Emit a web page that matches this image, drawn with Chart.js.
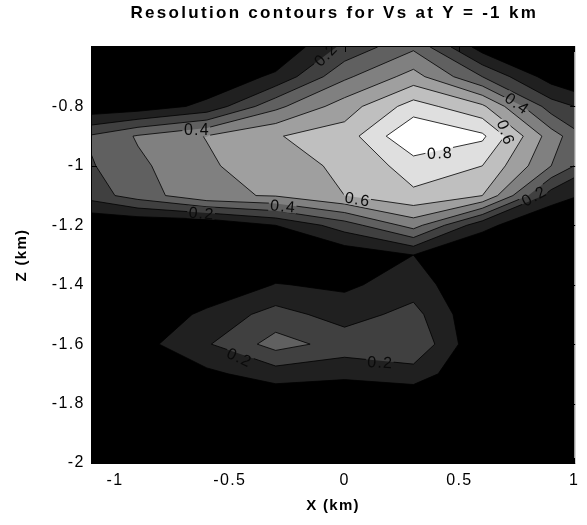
<!DOCTYPE html>
<html>
<head>
<meta charset="utf-8">
<script src="https://cdn.jsdelivr.net/npm/chart.js@4.4.1/dist/chart.umd.min.js"></script>
<style>
  html, body { margin: 0; padding: 0; background: #fff; }
  #wrap { width: 587px; height: 525px; }
</style>
</head>
<body>
<div id="wrap"><canvas id="myChart" width="587" height="525"></canvas></div>
<script>
// grid of the resolution model: columns in X (km), rows in Z (km)
const xNodes = [-1.2, -0.9, -0.6, -0.3, 0, 0.3, 0.6, 0.9, 1.2];
const zNodes = [-0.6, -0.7, -0.8, -0.9, -1.0, -1.1, -1.2, -1.3, -1.4, -1.5, -1.6, -1.7, -1.8, -1.9, -2.0];

// resolution values, one row per zNodes entry
const resolution = [
	[0,     0,     0,      0.004, 0.226, 0.38,  0.05, 0,    0],
	[0,     0,     0.02,   0.12,  0.38,  0.54,  0.3,  0.05, 0],
	[0.02,  0.04,  0.126,  0.373, 0.55,  0.745, 0.62, 0.25, 0.1],
	[0.27,  0.41,  0.505,  0.594, 0.647, 0.9,   0.82, 0.45, 0.15],
	[0.249, 0.38,  0.48,   0.58,  0.609, 0.75,  0.7,  0.4,  0.1],
	[0.21,  0.345, 0.4825, 0.507, 0.6,   0.68,  0.6,  0.15, 0.03],
	[0,     0,     0,      0.1,   0.25,  0.44,  0.13, 0,    0],
	[0,     0,     0,      0,     0.03,  0.1,   0,    0,    0],
	[0,     0,     0,      0.105, 0.081, 0.15,  0,    0,    0],
	[0,     0,     0.127,  0.24,  0.155, 0.235, 0,    0,    0],
	[0,     0.06,  0.19,   0.34,  0.26,  0.29,  0,    0,    0],
	[0,     0,     0.0775, 0.15,  0.124, 0.156, 0,    0,    0],
	[0,     0,     0,      0,     0,     0,     0,    0,    0],
	[0,     0,     0,      0,     0,     0,     0,    0,    0],
	[0,     0,     0,      0,     0,     0,     0,    0,    0]
];

const levels = [0.1, 0.2, 0.3, 0.4, 0.5, 0.6, 0.7, 0.8];
const xTicks = [-1, -0.5, 0, 0.5, 1];
const zTicks = [-2, -1.8, -1.6, -1.4, -1.2, -1, -0.8];

// inline contour labels
const labelText = ['0.4', '0.2', '0.4', '0.6', '0.8', '0.6', '0.4', '0.2', '0.2', '0.2', '0.2'];
const labelX = [-0.646, -0.084, 0.75, 0.702, 0.413, 0.054, -0.27, -0.625, 0.823, -0.46, 0.153];
const labelZ = [-0.879, -0.627, -0.789, -0.886, -0.957, -1.112, -1.135, -1.159, -1.102, -1.644, -1.661];
const labelAngle = [0, -45, 35, 70, -3, 10, 5, 5, -30, 25, 3];

const titleText = 'Resolution contours for Vs at Y = -1 km';
const shades = ['#000000', '#202020', '#404040', '#606060', '#808080', '#9f9f9f', '#bfbfbf', '#dfdfdf', '#ffffff'];
const FONT = "'Liberation Sans', Arial, sans-serif";

// per cell polygon of the part >= level (corners walked clockwise)
function cellPolygons(level) {
	const polys = [];
	for (let i = 0; i < zNodes.length - 1; i++) {
		for (let j = 0; j < xNodes.length - 1; j++) {
			const c = [
				[xNodes[j], zNodes[i], resolution[i][j]],
				[xNodes[j + 1], zNodes[i], resolution[i][j + 1]],
				[xNodes[j + 1], zNodes[i + 1], resolution[i + 1][j + 1]],
				[xNodes[j], zNodes[i + 1], resolution[i + 1][j]]
			];
			const pts = [];
			for (let k = 0; k < 4; k++) {
				const a = c[k], b = c[(k + 1) % 4];
				const ina = a[2] >= level, inb = b[2] >= level;
				if (ina) pts.push({x: a[0], z: a[1], kind: 'corner'});
				if (ina !== inb) {
					const t = (level - a[2]) / (b[2] - a[2]);
					pts.push({x: a[0] + t * (b[0] - a[0]), z: a[1] + t * (b[1] - a[1]), kind: ina ? 'out' : 'in'});
				}
			}
			if (pts.length >= 3) polys.push(pts);
		}
	}
	return polys;
}

const contourPlugin = {
	id: 'contourf',
	beforeDraw(chart) {
		chart.ctx.letterSpacing = '1.3px';
	},
	beforeDatasetsDraw(chart) {
		const {ctx, chartArea: a, scales: {x, y}} = chart;
		const px = v => x.getPixelForValue(v);
		const py = v => y.getPixelForValue(v);

		ctx.save();
		ctx.beginPath();
		ctx.rect(a.left, a.top, a.right - a.left, a.bottom - a.top);
		ctx.clip();
		ctx.fillStyle = shades[0];
		ctx.fillRect(a.left, a.top, a.right - a.left, a.bottom - a.top);

		const allPolys = levels.map(cellPolygons);
		allPolys.forEach((polys, k) => {
			ctx.beginPath();
			polys.forEach(p => {
				p.forEach((pt, i) => i ? ctx.lineTo(px(pt.x), py(pt.z)) : ctx.moveTo(px(pt.x), py(pt.z)));
				ctx.closePath();
			});
			ctx.fillStyle = shades[k + 1];
			ctx.fill();
		});

		// labels: measure boxes, keep contour lines out of them
		const labelFont = '16px ' + FONT;
		ctx.font = labelFont;
		ctx.letterSpacing = '1.2px';
		const boxes = labelText.map((t, i) => ({
			cx: px(labelX[i]), cy: py(labelZ[i]),
			w: ctx.measureText(t).width + 2, h: 13,
			ang: labelAngle[i] * Math.PI / 180
		}));

		ctx.save();
		ctx.beginPath();
		ctx.rect(a.left, a.top, a.right - a.left, a.bottom - a.top);
		boxes.forEach(b => {
			const cos = Math.cos(b.ang), sin = Math.sin(b.ang);
			const corners = [[-b.w / 2, -b.h / 2], [b.w / 2, -b.h / 2], [b.w / 2, b.h / 2], [-b.w / 2, b.h / 2]];
			corners.forEach(([u, v], i) => {
				const X = b.cx + u * cos - v * sin, Y = b.cy + u * sin + v * cos;
				i ? ctx.lineTo(X, Y) : ctx.moveTo(X, Y);
			});
			ctx.closePath();
		});
		ctx.clip('evenodd');

		ctx.strokeStyle = '#000';
		ctx.lineWidth = 0.8;
		allPolys.forEach(polys => {
			ctx.beginPath();
			polys.forEach(p => {
				for (let i = 0; i < p.length; i++) {
					const s = p[i], e = p[(i + 1) % p.length];
					if (s.kind === 'out' && e.kind === 'in') {
						ctx.moveTo(px(s.x), py(s.z));
						ctx.lineTo(px(e.x), py(e.z));
					}
				}
			});
			ctx.stroke();
		});
		ctx.restore();

		ctx.fillStyle = '#0a0a0a';
		ctx.font = labelFont;
		ctx.textAlign = 'center';
		ctx.textBaseline = 'middle';
		boxes.forEach((b, i) => {
			ctx.save();
			ctx.translate(b.cx, b.cy);
			ctx.rotate(b.ang);
			ctx.fillText(labelText[i], 0.6, 1);
			ctx.restore();
		});
		ctx.restore();

		// axes box with inward ticks
		ctx.save();
		ctx.strokeStyle = '#000';
		ctx.lineWidth = 1;
		ctx.strokeRect(a.left - 0.5, a.top - 0.5, a.right - a.left + 1, a.bottom - a.top + 1);
		ctx.strokeStyle = '#b0b0b0';
		ctx.beginPath();
		ctx.moveTo(a.right + 0.5, a.top);
		ctx.lineTo(a.right + 0.5, a.bottom);
		ctx.stroke();
		ctx.strokeStyle = '#000';
		ctx.beginPath();
		xTicks.forEach(v => {
			const X = Math.round(px(v)) + 0.5;
			ctx.moveTo(X, a.top); ctx.lineTo(X, a.top + 5);
			ctx.moveTo(X, a.bottom); ctx.lineTo(X, a.bottom - 5);
		});
		zTicks.forEach(v => {
			const Y = Math.round(py(v)) + 0.5;
			ctx.moveTo(a.left, Y); ctx.lineTo(a.left + 5, Y);
			ctx.moveTo(a.right + 1, Y); ctx.lineTo(a.right - 4, Y);
		});
		ctx.stroke();
		ctx.restore();
	},
	afterDraw(chart) {
		const {ctx, chartArea: a} = chart;
		ctx.save();
		ctx.font = 'bold 17px ' + FONT;
		ctx.letterSpacing = '2.3px';
		ctx.fillStyle = '#000';
		ctx.textAlign = 'center';
		ctx.textBaseline = 'middle';
		ctx.fillText(titleText, (a.left + a.right) / 2 + 1.2, 13);
		ctx.restore();
	}
};

new Chart(document.getElementById('myChart'), {
	type: 'scatter',
	data: {
		datasets: [{
			data: zNodes.flatMap(z => xNodes.map(x => ({x, y: z}))),
			pointRadius: 0,
			showLine: false
		}]
	},
	options: {
		responsive: false,
		animation: false,
		events: [],
		layout: { padding: { left: 0, right: 9, top: 47, bottom: 0 } },
		plugins: {
			legend: { display: false },
			tooltip: { enabled: false },
			title: { display: false }
		},
		scales: {
			x: {
				type: 'linear',
				min: -1.1,
				max: 1,
				afterBuildTicks: s => { s.ticks = xTicks.map(value => ({value})); },
				afterFit: s => { s.height = 62; },
				grid: { display: false, drawTicks: false },
				border: { display: false },
				ticks: { color: '#000', font: { family: FONT, size: 16 }, padding: 8.4, maxRotation: 0, autoSkip: false, callback: v => String(v) },
				title: { display: true, text: 'X (km)', color: '#000', font: { family: FONT, size: 15, weight: 'bold' }, padding: { top: 0, bottom: 10 } }
			},
			y: {
				type: 'linear',
				min: -2,
				max: -0.6,
				afterBuildTicks: s => { s.ticks = zTicks.map(value => ({value})); },
				afterFit: s => { s.width = 92; },
				grid: { display: false, drawTicks: false },
				border: { display: false },
				ticks: { color: '#000', font: { family: FONT, size: 16 }, padding: 7.4, autoSkip: false, callback: v => String(v) },
				title: { display: true, text: 'Z (km)', color: '#000', font: { family: FONT, size: 15, weight: 'bold' }, padding: { top: 13, bottom: 0 } }
			}
		}
	},
	plugins: [contourPlugin]
});
</script>
</body>
</html>
